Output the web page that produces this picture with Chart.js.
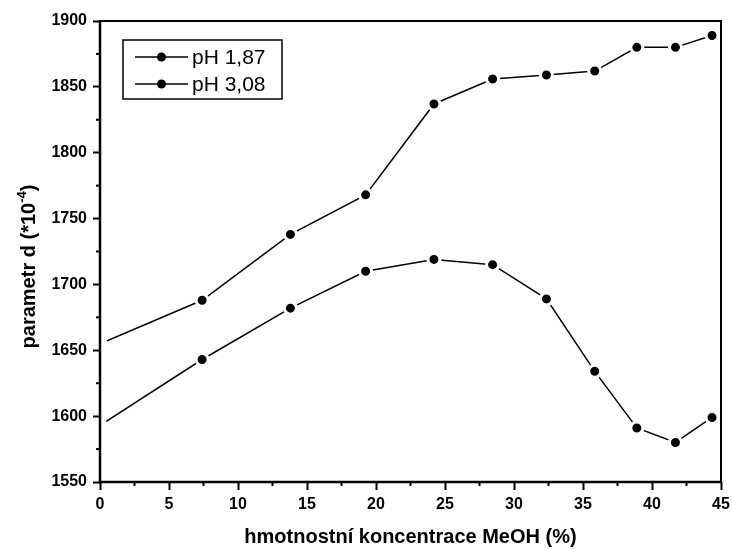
<!DOCTYPE html>
<html>
<head>
<meta charset="utf-8">
<script src="https://cdn.jsdelivr.net/npm/chart.js@4/dist/chart.umd.min.js"></script>
<style>
html,body{margin:0;padding:0;background:#fff;}
#wrap{width:732px;height:550px;}
</style>
</head>
<body>
<div id="wrap"><canvas id="c" width="732" height="550"></canvas></div>
<script>
const concentrations = [0, 7.4, 13.8, 19.25, 24.2, 28.45, 32.35, 35.85, 38.9, 41.7, 44.35];
const pH187 = [1655, 1688, 1738, 1768, 1837, 1856, 1859, 1862, 1880, 1880, 1889];
const pH308 = [1593, 1643, 1682, 1710, 1719, 1715, 1689, 1634, 1591, 1580, 1599];
const seriesLabels = ['pH 1,87', 'pH 3,08'];
const xTitle = 'hmotnostní koncentrace MeOH (%)';
const yTitleMain = 'parametr d (*10';
const yTitleSup = '-4';
const yTitleEnd = ')';
const xMin = 0, xMax = 45, xStep = 5;
const yMin = 1550, yMax = 1900, yStep = 50;

function pts(xs, ys){ return xs.map((x,i)=>({x:x, y:ys[i]})); }

const FONT = '"Liberation Sans", Arial, sans-serif';

const framePlugin = {
  id: 'frame',
  afterDatasetsDraw(chart){
    const {ctx, chartArea:a, scales} = chart;
    ctx.save();
    ctx.strokeStyle = '#000';
    ctx.lineWidth = 2;
    const xs = scales.x, ys = scales.y;
    // minor ticks
    for (let v = xMin + xStep/2; v < xMax; v += xStep){
      const px = xs.getPixelForValue(v);
      ctx.beginPath(); ctx.moveTo(px, a.bottom); ctx.lineTo(px, a.bottom + 4); ctx.stroke();
    }
    for (let v = yMin + yStep/2; v < yMax; v += yStep){
      const py = ys.getPixelForValue(v);
      ctx.beginPath(); ctx.moveTo(a.left, py); ctx.lineTo(a.left - 4, py); ctx.stroke();
    }
    // frame
    ctx.lineWidth = 2;
    ctx.strokeRect(a.left, a.top, a.right - a.left, a.bottom - a.top);
    ctx.lineWidth = 2.5;
    ctx.beginPath(); ctx.moveTo(a.left, a.top); ctx.lineTo(a.left, a.bottom); ctx.lineTo(a.right, a.bottom); ctx.stroke();

    // y title with superscript
    ctx.save();
    ctx.fillStyle = '#000';
    ctx.translate(35, (a.top + a.bottom) / 2 + 15);
    ctx.rotate(-Math.PI / 2);
    ctx.textBaseline = 'alphabetic';
    ctx.textAlign = 'left';
    const bf = 'bold 20px ' + FONT, sf = 'bold 13px ' + FONT;
    ctx.font = bf; const w1 = ctx.measureText(yTitleMain).width; const w3 = ctx.measureText(yTitleEnd).width;
    ctx.font = sf; const w2 = ctx.measureText(yTitleSup).width;
    let x0 = -(w1 + w2 + w3) / 2;
    ctx.font = bf; ctx.fillText(yTitleMain, x0, 0);
    ctx.font = sf; ctx.fillText(yTitleSup, x0 + w1, -9);
    ctx.font = bf; ctx.fillText(yTitleEnd, x0 + w1 + w2, 0);
    ctx.restore();

    // legend
    const bx = 123, by = 40, bw = 159, bh = 59;
    ctx.fillStyle = '#fff';
    ctx.fillRect(bx, by, bw, bh);
    ctx.lineWidth = 1.5;
    ctx.strokeStyle = '#000';
    ctx.strokeRect(bx, by, bw, bh);
    chart.data.datasets.forEach((ds, i) => {
      const y = by + 17 + i * 27;
      ctx.lineWidth = 1.5;
      ctx.beginPath(); ctx.moveTo(bx + 12, y); ctx.lineTo(bx + 65, y); ctx.stroke();
      ctx.fillStyle = '#000';
      ctx.beginPath(); ctx.arc(bx + 38.5, y, 4.5, 0, Math.PI*2); ctx.fill();
      ctx.font = '21px ' + FONT;
      ctx.textBaseline = 'middle';
      ctx.textAlign = 'left';
      ctx.fillText(ds.label, bx + 69, y + 1);
    });
    ctx.restore();
  }
};

const dsStyle = {
  borderColor: '#000',
  borderWidth: 1.5,
  pointRadius: 6,
  pointBackgroundColor: (c) => (c.raw && c.raw.x === xMin ? '#fff' : '#000'),
  pointBorderColor: '#fff',
  pointBorderWidth: 3,
  clip: 0,
  fill: false,
  tension: 0
};

new Chart(document.getElementById('c'), {
  type: 'line',
  data: {
    datasets: [
      Object.assign({label: seriesLabels[0], data: pts(concentrations, pH187)}, dsStyle),
      Object.assign({label: seriesLabels[1], data: pts(concentrations, pH308)}, dsStyle)
    ]
  },
  options: {
    responsive: false,
    animation: false,
    events: [],
    layout: {padding: {left: 0, right: 0, top: 21, bottom: 0}},
    plugins: {legend: {display: false}, tooltip: {enabled: false}},
    scales: {
      x: {
        type: 'linear', min: xMin, max: xMax,
        border: {display: false},
        grid: {drawOnChartArea: false, drawTicks: true, tickLength: 8, tickWidth: 2, tickColor: '#000'},
        ticks: {stepSize: xStep, color: '#000', padding: 5, maxRotation: 0, font: {family: FONT, size: 16, weight: 'bold'},
                callback: (v) => String(v)},
        title: {display: true, text: xTitle, color: '#000', padding: {top: 0, bottom: 1}, font: {family: FONT, size: 20, weight: 'bold'}},
        afterFit(s){ s.height = 68; s.paddingRight = 11; s.paddingLeft = 0; }
      },
      y: {
        type: 'linear', min: yMin, max: yMax,
        border: {display: false},
        grid: {drawOnChartArea: false, drawTicks: true, tickLength: 7, tickWidth: 2, tickColor: '#000'},
        ticks: {stepSize: yStep, color: '#000', padding: 6, font: {family: FONT, size: 16, weight: 'bold'},
                callback: (v) => String(v)},
        title: {display: false},
        afterFit(s){ s.width = 100; s.paddingTop = 0; s.paddingBottom = 0; }
      }
    }
  },
  plugins: [framePlugin]
});
</script>
</body>
</html>
